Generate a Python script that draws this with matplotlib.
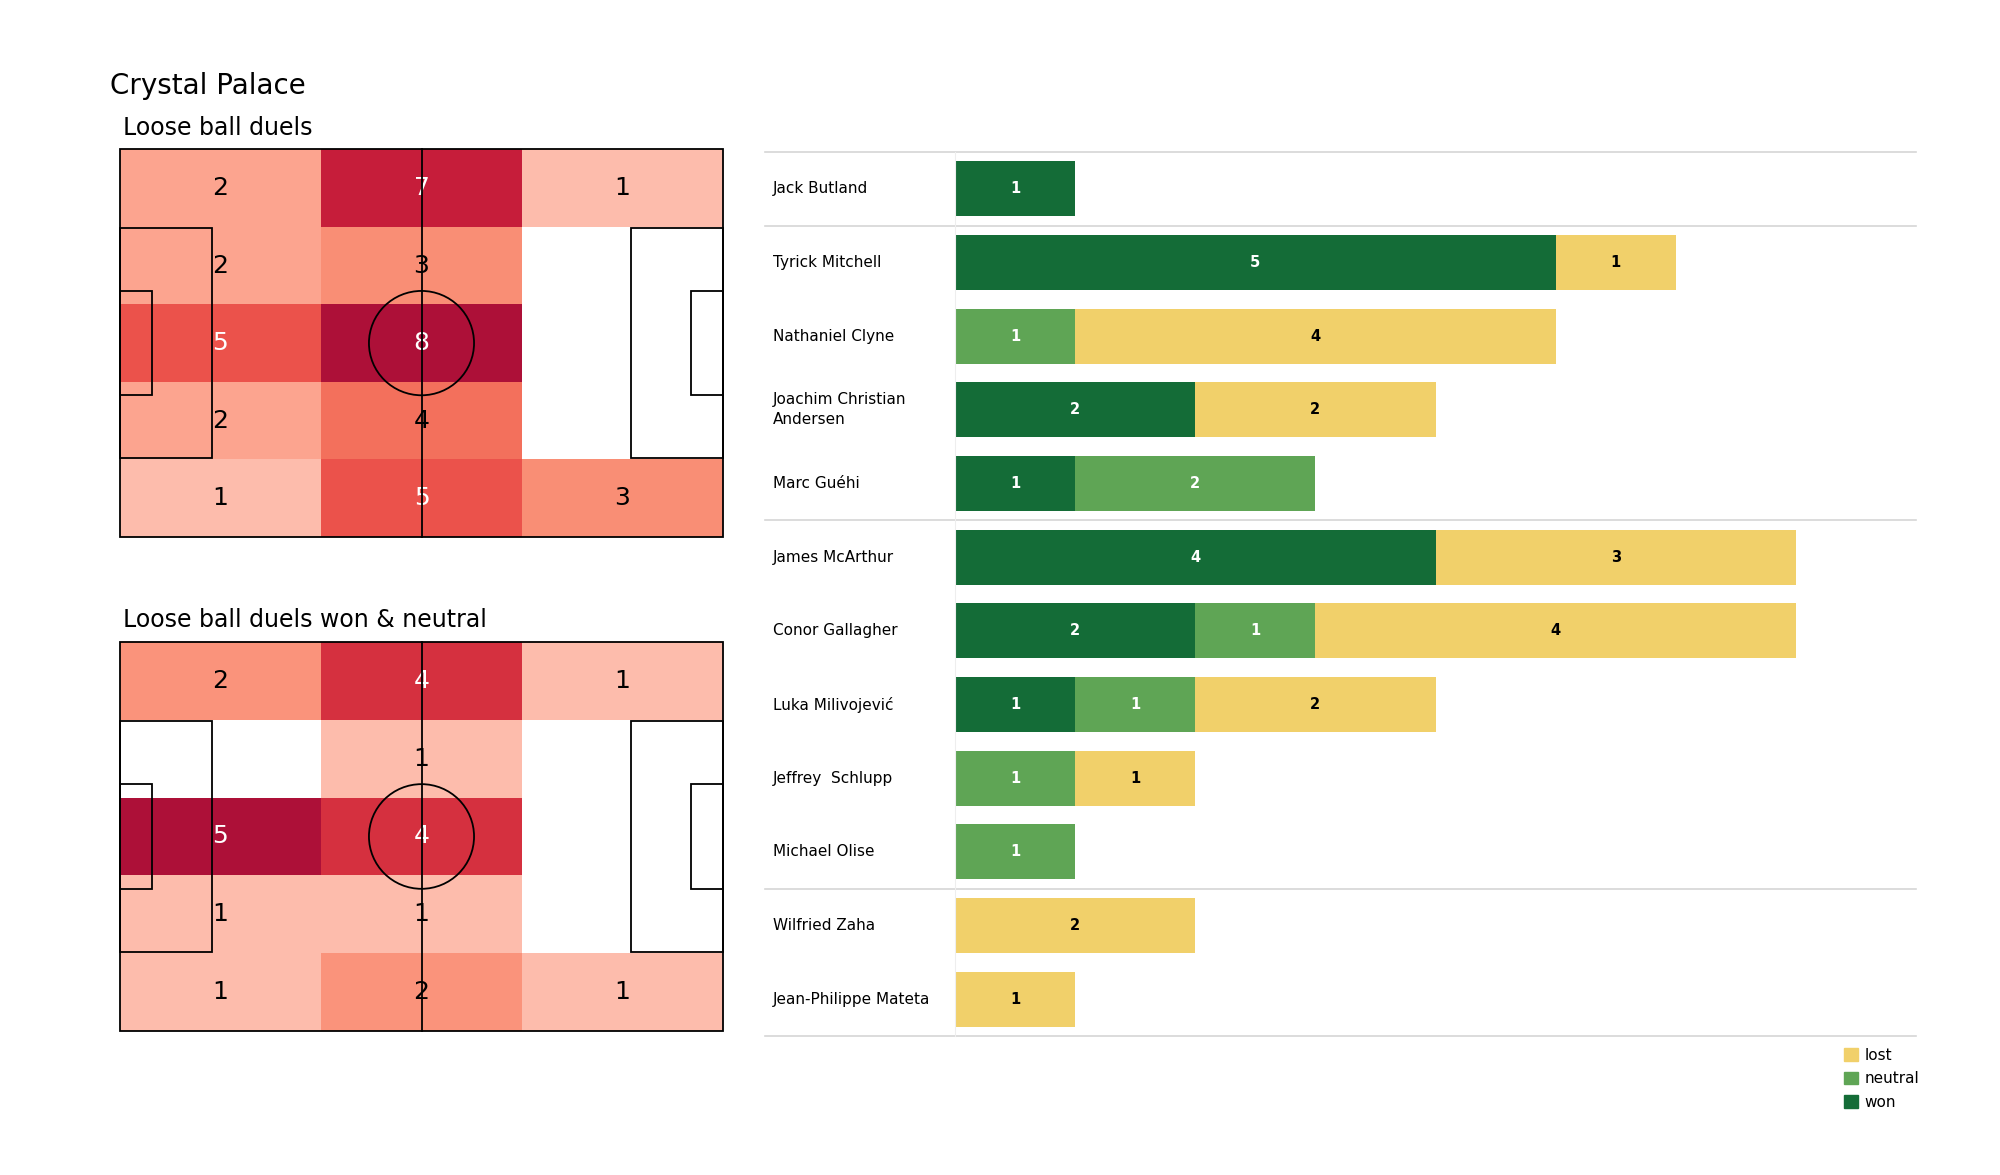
import numpy as np
import matplotlib
matplotlib.use("Agg")
import matplotlib.pyplot as plt
from matplotlib.colors import LinearSegmentedColormap
from matplotlib.patches import Rectangle, Circle, Patch
import matplotlib.transforms as mtransforms

# ---- data ----
team = "Crystal Palace"

# heatmap counts, rows top -> bottom, columns left -> right
duels_all = [[2, 7, 1],
             [2, 3, 0],
             [5, 8, 0],
             [2, 4, 0],
             [1, 5, 3]]
duels_won_neutral = [[2, 4, 1],
                     [0, 1, 0],
                     [5, 4, 0],
                     [1, 1, 0],
                     [1, 2, 1]]

players = ["Jack Butland", "Tyrick Mitchell", "Nathaniel Clyne",
           "Joachim Christian\nAndersen", "Marc Guéhi", "James McArthur",
           "Conor Gallagher", "Luka Milivojević", "Jeffrey  Schlupp",
           "Michael Olise", "Wilfried Zaha", "Jean-Philippe Mateta"]
won = [1, 5, 0, 2, 1, 4, 2, 1, 0, 0, 0, 0]
neutral = [0, 0, 1, 0, 2, 0, 1, 1, 1, 1, 0, 0]
lost = [0, 1, 4, 2, 0, 3, 4, 2, 1, 0, 2, 1]
group_breaks = [0.5, 4.5, 9.5]

COL_WON = "#146c37"
COL_NEUTRAL = "#5fa555"
COL_LOST = "#f1d06a"

heat_cmap = LinearSegmentedColormap.from_list(
    "heat", [(0.0, "#fdbcac"), (0.15, "#fca28d"), (0.3, "#f98c73"),
             (0.45, "#f26b58"), (0.6, "#ea4d48"), (0.85, "#c81e3a"),
             (1.0, "#ad1038")])

PITCH_L, PITCH_W = 105, 68


def draw_pitch(ax):
    kw = dict(fill=False, ec="black", lw=1.3, zorder=3, clip_on=False)
    ax.add_patch(Rectangle((0, 0), PITCH_L, PITCH_W, **kw))
    ax.plot([PITCH_L / 2, PITCH_L / 2], [0, PITCH_W], color="black", lw=1.3, zorder=3, clip_on=False)
    ax.add_patch(Circle((PITCH_L / 2, PITCH_W / 2), 9.15, **kw))
    # penalty and six yard boxes
    ax.add_patch(Rectangle((0, PITCH_W / 2 - 20.16), 16.0, 40.32, **kw))
    ax.add_patch(Rectangle((PITCH_L - 16.0, PITCH_W / 2 - 20.16), 16.0, 40.32, **kw))
    ax.add_patch(Rectangle((0, PITCH_W / 2 - 9.16), 5.5, 18.32, **kw))
    ax.add_patch(Rectangle((PITCH_L - 5.5, PITCH_W / 2 - 9.16), 5.5, 18.32, **kw))


def draw_heatmap(ax, grid, title):
    grid = np.array(grid, dtype=float)
    nrows, ncols = grid.shape
    xe = np.linspace(0, PITCH_L, ncols + 1)
    ye = np.linspace(0, PITCH_W, nrows + 1)
    nz = grid[grid > 0]
    vmin, vmax = nz.min(), nz.max()
    masked = np.ma.masked_where(grid == 0, grid)
    ax.pcolormesh(xe, ye, masked, cmap=heat_cmap, vmin=vmin, vmax=vmax, zorder=1)
    for r in range(nrows):
        for c in range(ncols):
            v = grid[r, c]
            if v == 0:
                continue
            frac = (v - vmin) / (vmax - vmin) if vmax > vmin else 1
            ax.text((xe[c] + xe[c + 1]) / 2, (ye[r] + ye[r + 1]) / 2, f"{int(v)}",
                    ha="center", va="center", fontsize=18,
                    color="white" if frac > 0.5 else "black", zorder=2)
    draw_pitch(ax)
    ax.set_xlim(0, PITCH_L)
    ax.set_ylim(PITCH_W, 0)
    ax.axis("off")
    ax.text(0.005, 1.025, title, transform=ax.transAxes, fontsize=17,
            ha="left", va="bottom")


fig = plt.figure(figsize=(20, 11.75), dpi=100)

fig.text(110 / 2000, 1 - 86 / 1175, team, fontsize=20, ha="left", va="center")

ax1 = fig.add_axes([0.06, 0.543, 0.3015, 0.330])
draw_heatmap(ax1, duels_all, "Loose ball duels")
ax2 = fig.add_axes([0.06, 0.1226, 0.3015, 0.331])
draw_heatmap(ax2, duels_won_neutral, "Loose ball duels won & neutral")

# ---- stacked bars ----
ax = fig.add_axes([0.4775, 0.1183, 0.4805, 0.7523])
y = np.arange(len(players))
won_a, neu_a, lost_a = np.array(won), np.array(neutral), np.array(lost)
h = 0.75
ax.barh(y, won_a, height=h, color=COL_WON, label="won")
ax.barh(y, neu_a, left=won_a, height=h, color=COL_NEUTRAL, label="neutral")
ax.barh(y, lost_a, left=won_a + neu_a, height=h, color=COL_LOST, label="lost")

for i in range(len(players)):
    start = 0
    for val, col in ((won_a[i], "white"), (neu_a[i], "white"), (lost_a[i], "black")):
        if val > 0:
            ax.text(start + val / 2, i, str(val), ha="center", va="center",
                    fontsize=10.5, fontweight="bold", color=col)
        start += val

ax.set_xlim(0, 8)
ax.set_ylim(len(players) - 0.5, -0.5)
ax.set_xticks([])
ax.set_yticks([])
for s in ["top", "right", "bottom"]:
    ax.spines[s].set_visible(False)
ax.spines["left"].set_color("#eeeeee")

trans = mtransforms.blended_transform_factory(ax.transAxes, ax.transData)
label_x = (773 - 955) / 961
line_x0 = (765 - 955) / 961
for i, name in enumerate(players):
    ax.text(label_x, i, name, transform=trans, ha="left", va="center",
            fontsize=11, linespacing=1.4)
for yb in [-0.5] + group_breaks + [len(players) - 0.5]:
    ax.plot([line_x0, 1.0], [yb, yb], transform=trans, color="#d6d6d6",
            lw=1.2, clip_on=False, zorder=0)

handles = [Patch(color=COL_LOST, label="lost"),
           Patch(color=COL_NEUTRAL, label="neutral"),
           Patch(color=COL_WON, label="won")]
fig.legend(handles=handles, loc="upper left", bbox_to_anchor=(1844 / 2000, 1 - 1048 / 1175),
           frameon=False, fontsize=11, handlelength=0.9, handleheight=0.9,
           handletextpad=0.45, labelspacing=0.55, borderpad=0, borderaxespad=0)

fig.savefig("out.png", dpi=100, facecolor="white")
